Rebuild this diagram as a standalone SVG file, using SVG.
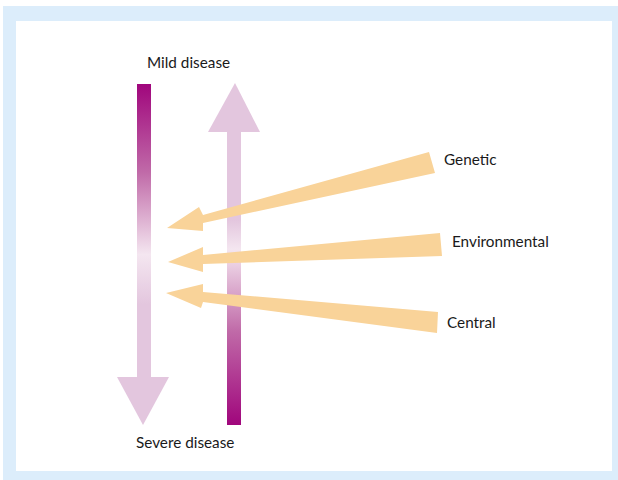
<svg xmlns="http://www.w3.org/2000/svg" width="618" height="480" viewBox="0 0 618 480">
<style>
.lbl{font-family:"Gill Sans","Lato","Liberation Sans",sans-serif;font-size:15.3px;fill:#1a1a1a}
.orange{fill:#f9d399}
.pale{fill:#e3c6de}
</style>
<defs>
<linearGradient id="gDown" gradientUnits="userSpaceOnUse" x1="0" y1="84" x2="0" y2="378">
<stop offset="0" stop-color="#a0067c"/>
<stop offset="0.3" stop-color="#c06aa8"/>
<stop offset="0.58" stop-color="#f4e6f0"/>
<stop offset="0.75" stop-color="#e3c6de"/>
<stop offset="1" stop-color="#e3c6de"/>
</linearGradient>
<linearGradient id="gUp" gradientUnits="userSpaceOnUse" x1="0" y1="132" x2="0" y2="425">
<stop offset="0" stop-color="#e3c6de"/>
<stop offset="0.3" stop-color="#e3c6de"/>
<stop offset="0.4" stop-color="#f4e6f0"/>
<stop offset="0.68" stop-color="#c06aa8"/>
<stop offset="1" stop-color="#a0067c"/>
</linearGradient>
</defs>
<g id="frame">
<rect x="3" y="6" width="615" height="474" fill="#dcedfb"/>
<rect x="16" y="21" width="596" height="450" fill="#ffffff"/>
</g>
<g id="severity-down">
<rect x="137" y="84" width="14" height="294" fill="url(#gDown)"/>
<polygon class="pale" points="117,377 169,377 143,425"/>
</g>
<g id="severity-up">
<rect x="227" y="131" width="14" height="294" fill="url(#gUp)"/>
<polygon class="pale" points="208,132 260,132 235,83"/>
</g>
<g id="connectors">
<polygon class="orange" points="429,152 435,173 203,223 203,231 167,228 199,207 203,215"/>
<polygon class="orange" points="440,233 442,256 203,264 203,272 168,262 203,247 203,255"/>
<polygon class="orange" points="438,312 437,333 203,302 201,308 166,293 203,284 203,292"/>
</g>
<g id="label-mild"><text class="lbl" x="147" y="68">Mild disease</text></g>
<g id="label-severe"><text class="lbl" x="136" y="448">Severe disease</text></g>
<g id="label-genetic"><text class="lbl" x="444" y="165">Genetic</text></g>
<g id="label-environmental"><text class="lbl" x="452" y="247">Environmental</text></g>
<g id="label-central"><text class="lbl" x="447" y="328">Central</text></g>
</svg>
